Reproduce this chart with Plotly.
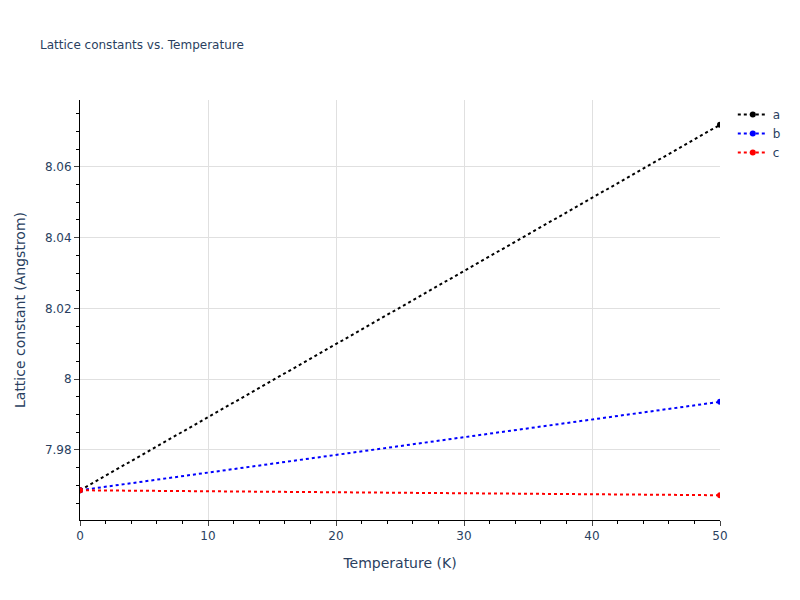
import plotly.graph_objects as go

# Temperature (K) and lattice constants (Angstrom)
temperature = [0, 50]
lattice_a = [7.9686, 8.0719]
lattice_b = [7.9686, 7.9936]
lattice_c = [7.9686, 7.9672]

series = [("a", lattice_a, "black"), ("b", lattice_b, "blue"), ("c", lattice_c, "red")]

fig = go.Figure()
for name, vals, col in series:
    fig.add_trace(go.Scatter(x=temperature, y=vals, name=name, mode="lines+markers",
                             line=dict(color=col, dash="dot", width=2),
                             marker=dict(color=col, size=6)))

axis_style = dict(showline=True, linecolor="black", linewidth=1, ticks="outside",
                  tickcolor="#444", gridcolor="#e0e0e0", zeroline=False)
fig.update_layout(
    font=dict(family="DejaVu Sans", size=12),
    title=dict(text="Lattice constants vs. Temperature", font=dict(size=12),
               x=0.04, xanchor="left", y=1 - 37 / 600, yanchor="middle"),
    width=800, height=600,
    margin=dict(l=72, r=88, t=92, b=88),
    plot_bgcolor="white", paper_bgcolor="white",
    xaxis=dict(title="Temperature (K)", range=[0, 50],
               minor=dict(dtick=2, ticks="outside", tickcolor="black", showgrid=False),
               **axis_style),
    yaxis=dict(title="Lattice constant (Angstrom)", range=[7.9602, 8.0789], dtick=0.02,
               minor=dict(dtick=0.005, ticks="outside", tickcolor="black", showgrid=False),
               **axis_style),
)
fig.write_html("out.html")
